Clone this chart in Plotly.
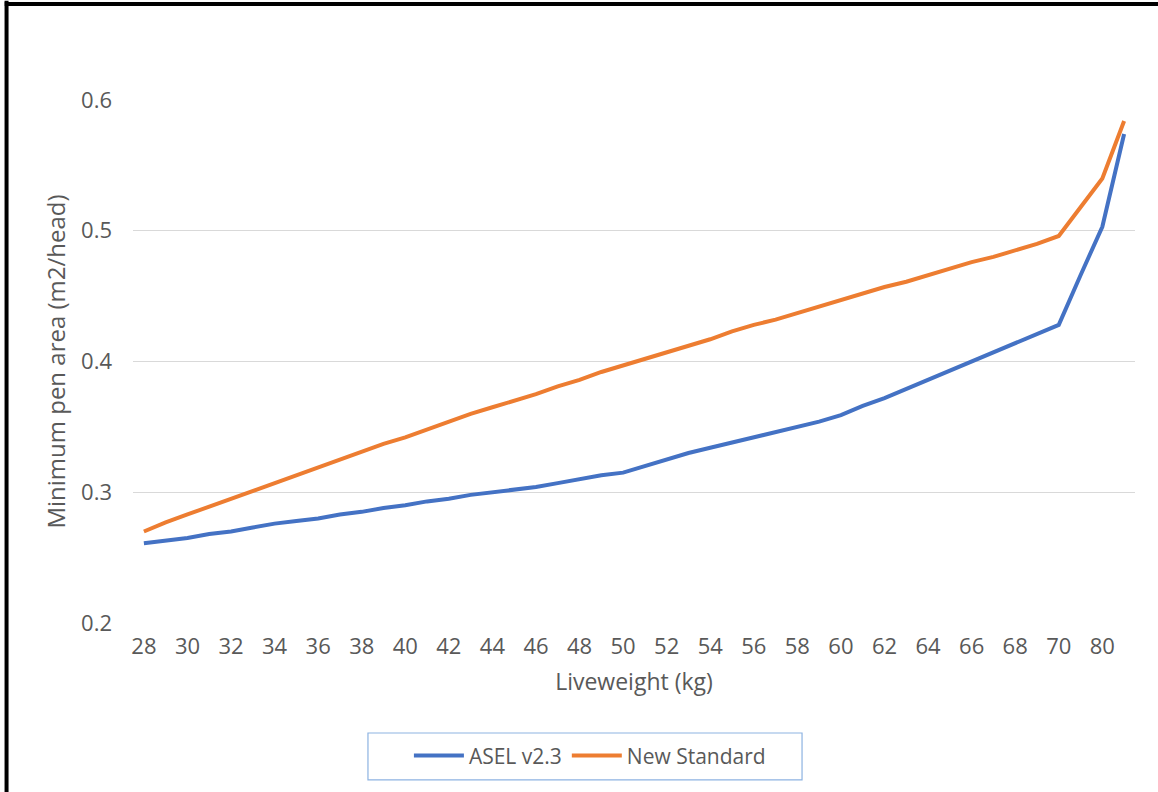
import plotly.graph_objects as go

# Liveweight categories (kg) - evenly spaced category axis
weights = [str(w) for w in range(28, 71)] + ["75", "80", "85"]

asel = [0.261, 0.263, 0.265, 0.268, 0.270, 0.273, 0.276, 0.278, 0.280, 0.283,
        0.285, 0.288, 0.290, 0.293, 0.295, 0.298, 0.300, 0.302, 0.304, 0.307,
        0.310, 0.313, 0.315, 0.320, 0.325, 0.330, 0.334, 0.338, 0.342, 0.346,
        0.350, 0.354, 0.359, 0.366, 0.372, 0.379, 0.386, 0.393, 0.400, 0.407,
        0.414, 0.421, 0.428, 0.466, 0.503, 0.574]

new_std = [0.270, 0.277, 0.283, 0.289, 0.295, 0.301, 0.307, 0.313, 0.319, 0.325,
           0.331, 0.337, 0.342, 0.348, 0.354, 0.360, 0.365, 0.370, 0.375, 0.381,
           0.386, 0.392, 0.397, 0.402, 0.407, 0.412, 0.417, 0.423, 0.428, 0.432,
           0.437, 0.442, 0.447, 0.452, 0.457, 0.461, 0.466, 0.471, 0.476, 0.480,
           0.485, 0.490, 0.496, 0.518, 0.540, 0.584]

series_names = ["ASEL v2.3", "New Standard"]
colors = ["#4472C4", "#ED7D31"]

font = "'Open Sans', sans-serif"
grey = "#595959"

fig = go.Figure()
for name, vals, col in zip(series_names, [asel, new_std], colors):
    fig.add_trace(go.Scatter(
        x=weights, y=vals, mode="lines", name=name,
        line=dict(color=col, width=4),
        cliponaxis=False,
    ))

fig.update_layout(
    width=1158, height=792,
    margin=dict(l=133, r=23, t=100, b=169),
    paper_bgcolor="white", plot_bgcolor="white",
    font=dict(family=font, size=22, color=grey),
    showlegend=True,
    legend=dict(orientation="h", x=0.456, xanchor="center", y=-0.254, yanchor="middle",
                font=dict(size=21, color=grey), bgcolor="rgba(0,0,0,0)",
                itemwidth=50, tracegroupgap=0),
    xaxis=dict(type="category", range=[-0.5, len(weights) - 0.5],
               showgrid=False, showline=False, zeroline=False,
               tickmode="linear", tick0=0, dtick=2, ticks="",
               ticklabelstandoff=8,
               tickfont=dict(size=22, color=grey),
               title=dict(text="Liveweight (kg)", font=dict(size=23, color=grey), standoff=14)),
    yaxis=dict(range=[0.2, 0.6], dtick=0.1, tickformat=".1f",
               showgrid=True, gridcolor="#D9D9D9", gridwidth=1.2,
               zeroline=False, showline=False, ticks="",
               ticklabelstandoff=20,
               tickfont=dict(size=22, color=grey),
               title=dict(text="Minimum pen area (m2/head)", font=dict(size=24, color=grey), standoff=8)),
    shapes=[
        # legend box
        dict(type="rect", xref="paper", yref="paper",
             x0=0.2345, x1=0.6677, y0=-0.300, y1=-0.2103,
             line=dict(color="#8DB3E2", width=1.2), fillcolor="rgba(0,0,0,0)"),
        # outer black frame (left and top)
        dict(type="line", xref="paper", yref="paper",
             x0=-0.1262, x1=-0.1262, y0=1.19, y1=-0.33,
             line=dict(color="black", width=4)),
        dict(type="line", xref="paper", yref="paper",
             x0=-0.128, x1=1.03, y0=1.1836, y1=1.1836,
             line=dict(color="black", width=4)),
    ],
)

fig.write_html("out.html", config={"displayModeBar": False},
               post_script="document.body.style.margin='0';")
